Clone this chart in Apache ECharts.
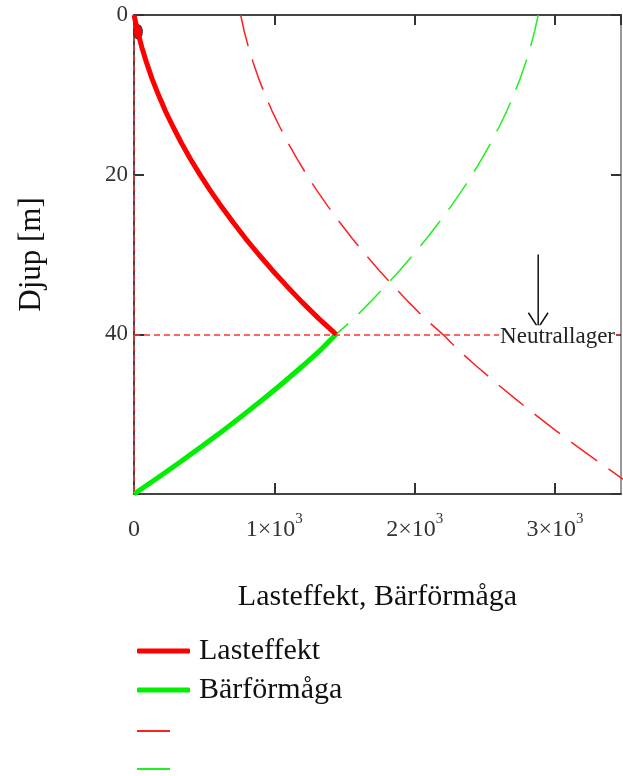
<!DOCTYPE html>
<html><head><meta charset="utf-8">
<script src="https://cdn.jsdelivr.net/npm/echarts@6/dist/echarts.min.js"></script>
<style>html,body{margin:0;padding:0;background:#fff}#c{width:623px;height:776px}</style>
</head><body><div id="c"></div>
<script>
// Depth (m) arrays
const depthLoad = [0,2,4,6,8,10,12,14,16,18,20,22,24,26,28,30,32,34,36,38,40];
const depthFull = [0,2,4,6,8,10,12,14,16,18,20,22,24,26,28,30,32,34,36,38,40,42,44,46,48,50,52,54,56,58,60];
const depthBar  = [40,42,44,46,48,50,52,54,56,58,60];
// Values
const lasteffekt       = [0,25,55,90,129,174,223,278,337,401,470,544,623,707,795,889,987,1091,1199,1315,1440];
const lasteffektDashed = [760,785,815,850,889,934,983,1038,1097,1161,1230,1304,1383,1467,1555,1649,1747,1851,1959,2072,2200,2313,2441,2574,2711,2854,3001,3154,3311,3473,3640];
const barformagaDashed = [2880,2855,2825,2790,2751,2706,2657,2602,2543,2479,2410,2336,2257,2173,2085,1991,1893,1789,1681,1568,1440];
const barformaga       = [1440,1327,1199,1067,929,786,639,486,329,167,0];
// Tick labels
const xTickValues = [0,1000,2000,3000];
const xTickBase   = ['0','1×10','2×10','3×10'];
const xTickSup    = ['','3','3','3'];
const neutralDepth = 40;
const neutralLabel = 'Neutrallager';
const arrowX = 2880, arrowTop = 30, arrowTip = 39.2;

const FONT = '"Liberation Serif","Times New Roman",serif';
const pairs = (xs, ds) => xs.map((v, i) => [v, ds[i]]);
const chart = echarts.init(document.getElementById('c'), null, {renderer: 'canvas'});

const axisLineStyle = {color: '#444', width: 2};
const option = {
  animation: false,
  backgroundColor: '#fff',
  grid: {left: 134, top: 15, right: 2, bottom: 282},
  legend: [
    {data: ['Lasteffekt', 'Bärförmåga'], orient: 'vertical', left: 132, top: 631,
     itemWidth: 53, itemHeight: 5, icon: 'roundRect', itemGap: 9, selectedMode: false,
     textStyle: {fontFamily: FONT, fontSize: 30, lineHeight: 30, color: '#111', padding: [0, 0, 0, 4]}},
    {data: ['Lasteffekt_d', 'Bärförmåga_d'], orient: 'vertical', left: 137, top: 725, padding: 0,
     itemWidth: 33, itemHeight: 2, icon: 'rect', itemGap: 26, selectedMode: false,
     formatter: () => '\u00a0',
     textStyle: {fontFamily: FONT, fontSize: 12, lineHeight: 12, color: '#111'}}
  ],
  xAxis: [
    {type: 'value', position: 'bottom', min: 0, max: 3470, interval: 1000,
     axisLine: {show: true, onZero: false, lineStyle: axisLineStyle},
     axisTick: {show: true, inside: true, length: 11, lineStyle: {color: '#333', width: 2}},
     splitLine: {show: false},
     axisLabel: {margin: 18, showMaxLabel: false,
       formatter: v => { const i = xTickValues.indexOf(v); if (i < 0) return '';
         return xTickSup[i] ? '{b|' + xTickBase[i] + '}{s|' + xTickSup[i] + '}' : '{b|' + xTickBase[i] + '}'; },
       rich: {b: {fontFamily: FONT, fontSize: 24, color: '#333', lineHeight: 30, verticalAlign: 'bottom'},
              s: {fontFamily: FONT, fontSize: 15, color: '#333', lineHeight: 30, verticalAlign: 'top'}}},
     name: 'Lasteffekt, Bärförmåga', nameLocation: 'middle', nameGap: 88,
     nameTextStyle: {fontFamily: FONT, fontSize: 30, color: '#111'}},
    {type: 'value', position: 'top', min: 0, max: 3470, interval: 1000,
     axisLine: {show: true, onZero: false, lineStyle: axisLineStyle},
     axisTick: {show: true, inside: true, length: 10, lineStyle: {color: '#333', width: 2}},
     splitLine: {show: false}, axisLabel: {show: false}}
  ],
  yAxis: [
    {type: 'value', inverse: true, min: 0, max: 60, interval: 20, position: 'left',
     axisLine: {show: true, onZero: false, lineStyle: axisLineStyle},
     axisTick: {show: true, inside: true, length: 10, lineStyle: {color: '#333', width: 2}},
     splitLine: {show: false},
     axisLabel: {showMaxLabel: false, margin: 6, fontFamily: FONT, fontSize: 23, color: '#333'},
     name: 'Djup [m]', nameLocation: 'middle', nameGap: 87, nameRotate: 90,
     nameTextStyle: {fontFamily: FONT, fontSize: 31, color: '#111'}},
    {type: 'value', inverse: true, min: 0, max: 60, interval: 20, position: 'right',
     axisLine: {show: true, onZero: false, lineStyle: {color: '#777', width: 1.5}},
     axisTick: {show: true, inside: true, length: 10, lineStyle: {color: '#333', width: 2}},
     splitLine: {show: false}, axisLabel: {show: false}}
  ],
  series: [
    {name: 'Lasteffekt_d', type: 'line', data: pairs(lasteffektDashed, depthFull), showSymbol: false,
     itemStyle: {color: '#ff2020'}, lineStyle: {color: '#ff2020', width: 1.5, type: [32, 14]}, z: 3},
    {name: 'Bärförmåga_d', type: 'line', data: pairs(barformagaDashed, depthLoad), showSymbol: false,
     itemStyle: {color: '#20f020'}, lineStyle: {color: '#20f020', width: 1.5, type: [32, 14]}, z: 3},
    {name: 'Bärförmåga', type: 'line', data: pairs(barformaga, depthBar), showSymbol: false,
     itemStyle: {color: '#00ee00'}, lineStyle: {color: '#00ee00', width: 5}, z: 4},
    {name: 'Lasteffekt', type: 'line', data: pairs(lasteffekt, depthLoad), showSymbol: false,
     itemStyle: {color: '#ff0000'}, lineStyle: {color: '#ff0000', width: 5}, z: 5,
     markLine: {silent: true, symbol: ['none', 'none'], label: {show: false},
       lineStyle: {color: '#ff3030', width: 1.5, type: [6, 4]},
       data: [{yAxis: neutralDepth}, {xAxis: 0}]},
     markPoint: {silent: true, symbol: 'circle', symbolSize: [9, 14], label: {show: false},
       itemStyle: {color: '#ff0000', borderColor: '#333', borderWidth: 1},
       data: [{coord: [28, 2.1]}]}}
  ]
};
chart.setOption(option);

const toPx = (x, y) => chart.convertToPixel({xAxisIndex: 0, yAxisIndex: 0}, [x, y]);
const arrowStart = toPx(arrowX, arrowTop), arrowEnd = toPx(arrowX, arrowTip);
const wingL = toPx(arrowX - 70, 37.3), wingR = toPx(arrowX + 70, 37.3);
const textPos = toPx(3018, 40.3);
chart.setOption({graphic: [
  {type: 'line', shape: {x1: arrowStart[0], y1: arrowStart[1], x2: arrowEnd[0], y2: arrowEnd[1]}, style: {stroke: '#111', lineWidth: 1.5}, z: 10},
  {type: 'polyline', shape: {points: [wingL, arrowEnd, wingR]}, style: {stroke: '#111', lineWidth: 1.5, fill: null}, z: 10},
  {type: 'text', x: textPos[0], y: textPos[1], z: 10,
   style: {text: neutralLabel, font: '23px ' + FONT, fill: '#222', align: 'center', verticalAlign: 'middle',
           backgroundColor: '#fff', padding: [0, 1]}}
]});
</script></body></html>
